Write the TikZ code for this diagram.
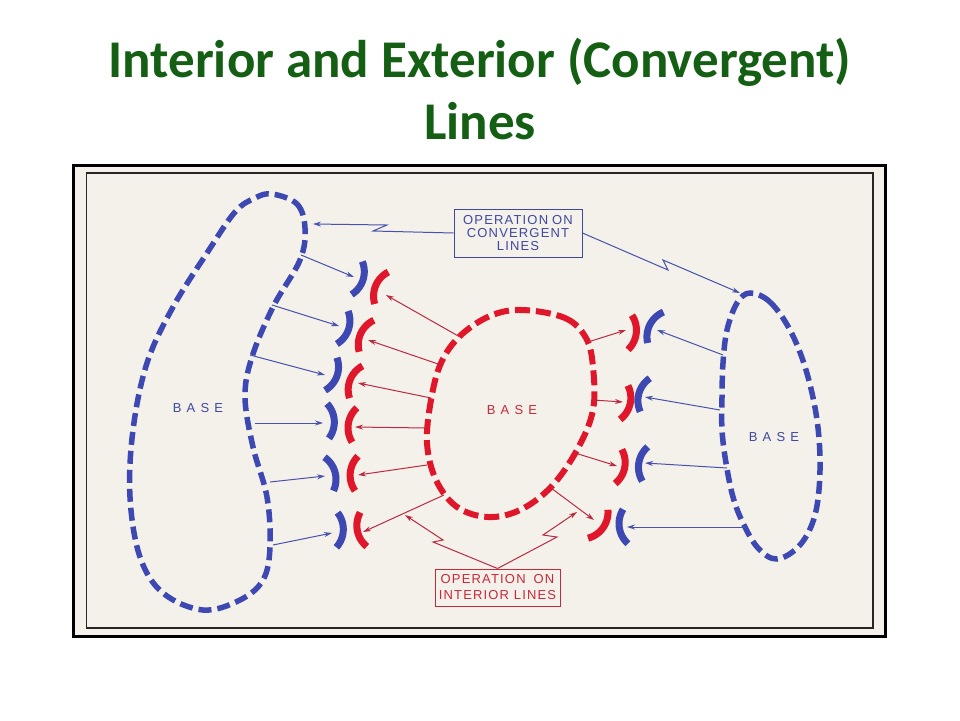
\documentclass[tikz,border=0pt]{standalone}
\usepackage{fontspec}
\setmainfont{Carlito}
\newfontfamily\labfont[LetterSpace=9]{Liberation Sans}
\newfontfamily\basefont[LetterSpace=40]{Liberation Sans}
\usetikzlibrary{arrows.meta}
\definecolor{titlegreen}{RGB}{20,95,20}
\definecolor{paper}{RGB}{243,241,233}
\definecolor{bluefill}{RGB}{62,72,178}
\definecolor{redfill}{RGB}{224,22,42}
\definecolor{bluethin}{RGB}{72,82,172}
\definecolor{redthin}{RGB}{188,42,66}
\definecolor{labelblue}{RGB}{62,72,160}
\definecolor{labelred}{RGB}{200,40,60}
\newcommand\oparc[4]{%
  \draw[#1, line width=7pt] plot[domain={#4-40}:{#4+40}, samples=16, variable=\t]
    ({#2-20.7*cos(#4)+27*cos(\t)},{#3-20.7*sin(#4)+27*sin(\t)});}
\begin{document}
\begin{tikzpicture}[x=1pt,y=-1pt,
  blueblob/.style={draw=bluefill, line width=5.5pt, dash pattern=on 13pt off 6pt},
  redblob/.style={draw=redfill, line width=6pt, dash pattern=on 15pt off 6pt},
  barrow/.style={draw=bluethin, line width=1pt, -{Stealth[length=8pt,width=5pt]}},
  rarrow/.style={draw=redthin, line width=1pt, -{Stealth[length=8pt,width=5pt]}},
  titletext/.style={anchor=base, text=titlegreen, font=\bfseries\fontsize{53}{63}\selectfont},
  basetext/.style={font=\basefont\fontsize{13}{13}\selectfont},
  labelbox/.style={font=\labfont\fontsize{13}{13}\selectfont, align=center, inner sep=0pt, line width=1pt}]
\useasboundingbox (0,0) rectangle (960,720);
\fill[white] (0,0) rectangle (960,720);
% title
\node[titletext] (t1) at (480,77) {Interior and Exterior (Convergent)};
\node[titletext] (t2) at (480,139) {Lines};
% frame
\fill[paper] (73.5,165.5) rectangle (885.5,636.5);
\draw[black, line width=3.5pt] (73.5,165.5) rectangle (885.5,636.5);
\draw[black!85, line width=1.2pt] (86.5,173) rectangle (873,628);
% blobs
\draw[blueblob] plot[smooth cycle, tension=0.6] coordinates {(272,194) (297,204) (305,228) (300,260) (273,307) (252,357) (245,397) (253,447) (267,497) (270,547) (263,580) (240,600) (203,610) (163,593) (140,557) (130,497) (133,430) (147,363) (173,307) (207,253) (235,212) (255,198)};
\draw[blueblob] plot[smooth cycle, tension=0.6] coordinates {(750,293) (770,302) (790,330) (806,370) (817,420) (820,470) (815,515) (800,545) (777,559) (758,548) (743,523) (733,497) (726,463) (722,430) (722,397) (723,363) (727,330) (737,303)};
\draw[redblob] plot[smooth cycle, tension=0.6] coordinates {(522,310) (565,318) (586,338) (593,367) (593,410) (577,450) (551,487) (520,510) (488,517) (457,507) (436,480) (427,443) (431,400) (441,363) (460,336) (490,316)};
% base labels
\node[basetext, text=labelblue] (lbase) at (198,408) {BASE};
\node[basetext, text=labelred] (cbase) at (512,410) {BASE};
\node[basetext, text=labelblue] (rbase) at (774,437) {BASE};
% left blue arcs
\oparc{bluefill}{357}{278}{18}
\oparc{bluefill}{342.5}{327.5}{19}
\oparc{bluefill}{331}{374}{20}
\oparc{bluefill}{328}{421}{-3}
\oparc{bluefill}{329}{474}{-15}
\oparc{bluefill}{337}{530}{2}
% left red arcs
\oparc{redfill}{381.5}{288}{203}
\oparc{redfill}{366.5}{336}{205}
\oparc{redfill}{356}{382}{202}
\oparc{redfill}{354.5}{425}{188}
\oparc{redfill}{356.5}{473.5}{185}
\oparc{redfill}{363.5}{529.5}{169}
% right red arcs
\oparc{redfill}{630}{332.5}{6.5}
\oparc{redfill}{624}{402.5}{13}
\oparc{redfill}{618.5}{466.5}{11}
\oparc{redfill}{598}{524}{35}
% right blue arcs
\oparc{bluefill}{655.5}{327.5}{207}
\oparc{bluefill}{645}{395}{196}
\oparc{bluefill}{645}{464}{189}
\oparc{bluefill}{625.5}{526.5}{172}
% arrows
\foreach \ax/\ay/\bx/\by in {301/255/354/277, 272/305/339/326, 250/355/325/375, 255/423/323/423, 270/482/325/476, 273/545/332/533, 723/355/657/330, 720/410/645/397, 727/468/645/463, 747/527/627/527}
  \draw[barrow] (\ax,\ay) -- (\bx,\by);
\foreach \ax/\ay/\bx/\by in {460/337/386/295, 441/365/368/340, 431/398/358/383, 427/428/355/427, 427/465/358/475, 444/495/363/532, 588/342/626/330, 593/400/623/402, 575/453/617/466, 551/488/594/520}
  \draw[rarrow] (\ax,\ay) -- (\bx,\by);
% label boxes
\node[labelbox, draw=labelblue, text=labelblue, minimum width=128pt, minimum height=48pt] (conv) at (518,233) {OPERATION\hspace{4pt}ON\\CONVERGENT\\LINES};
\node[labelbox, draw=labelred, text=labelred, minimum width=125pt, minimum height=37pt, font=\labfont\fontsize{13}{16}\selectfont] (intr) at (497.5,587.5) {OPERATION\hspace{8pt}ON\\INTERIOR LINES};
% leaders
\draw[barrow] (conv.west) -- (373,231) -- (387,225) -- (313,224);
\draw[barrow] (conv.east) -- (668,270) -- (663,260) -- (740,293);
\draw[rarrow] (intr.north) -- (433,542) -- (443,540) -- (405,515);
\draw[rarrow] (intr.north) -- (557,537) -- (543,535) -- (577,512);
\end{tikzpicture}
\end{document}
